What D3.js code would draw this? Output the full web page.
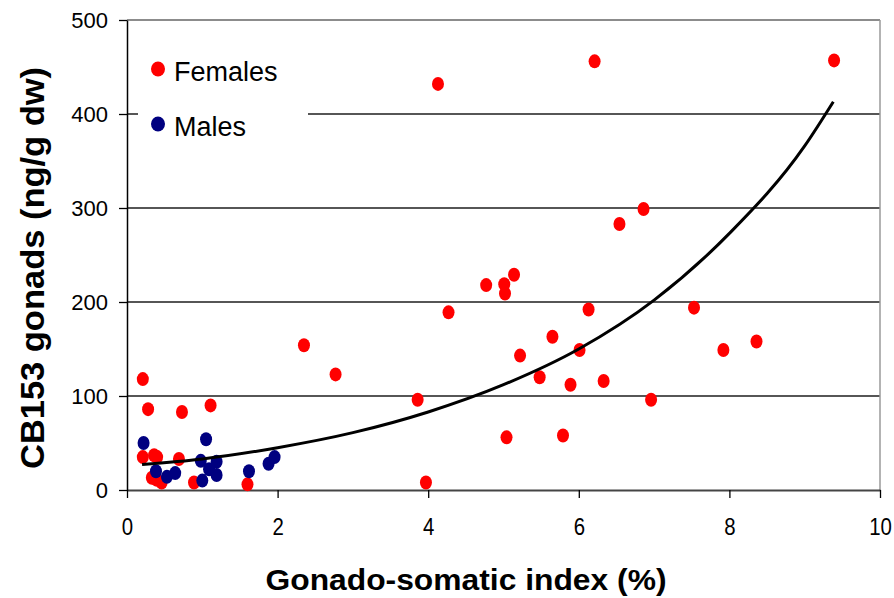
<!DOCTYPE html>
<html>
<head>
<meta charset="utf-8">
<script src="https://cdn.jsdelivr.net/npm/d3@7"></script>
<style>
  body { margin: 0; background: #fff; }
  text { font-family: "Liberation Sans", Arial, sans-serif; }
</style>
</head>
<body>
<div id="chart"></div>
<script>
// Gonado-somatic index (%) vs CB153 in gonads (ng/g dw)
const femalesX = [9.39, 6.21, 4.13, 6.86, 6.54, 5.14, 4.77, 5.01, 5.02, 4.27, 6.13, 7.53,
  5.65, 6.01, 5.22, 7.92, 8.36, 2.35, 2.77, 5.48, 5.89, 6.33, 3.86, 6.96, 5.04, 5.79,
  3.97, 1.60, 0.21, 0.28, 0.73, 1.11, 0.21, 0.36, 0.40, 0.33, 0.39, 0.46, 0.69, 0.89];
const femalesY = [457, 456, 432, 299, 283, 229, 218, 219, 209, 189, 192, 194,
  163, 149, 143, 149, 158, 154, 123, 120, 112, 116, 96, 96, 56, 58,
  8, 6, 118, 86, 83, 90, 35, 37, 35, 13, 11, 8, 33, 8];

const malesX = [0.22, 0.385, 0.53, 0.64, 1.05, 0.98, 1.19, 1.09, 1.19, 1.0, 1.62, 1.88, 1.96];
const malesY = [50, 20, 14, 18, 54, 31, 30, 22, 16, 10, 20, 28, 35];

// exponential trendline
const trendX = [0.2, 1, 2, 3, 4, 5, 6, 7, 8, 9, 9.38];
const trendY = [27, 33, 45, 61, 83, 112, 150, 202, 273, 366, 413];

const xTicks = [0, 2, 4, 6, 8, 10];
const yTicks = [0, 100, 200, 300, 400, 500];

const legendLabels = ["Females", "Males"];
const colors = ["#ff0000", "#000080"];

const width = 894, height = 598;
const plotLeft = 127, plotRight = 880, plotTop = 20, plotBottom = 490;

const svg = d3.select("#chart").append("svg")
  .attr("width", width)
  .attr("height", height);

const x = d3.scaleLinear().domain([0, 10]).range([plotLeft, plotRight]);
const y = d3.scaleLinear().domain([0, 500]).range([plotBottom, plotTop]);

// horizontal gridlines
svg.append("g")
  .selectAll("line")
  .data(yTicks.filter(d => d > 0))
  .enter()
  .append("line")
  .attr("x1", plotLeft)
  .attr("x2", plotRight)
  .attr("y1", d => y(d))
  .attr("y2", d => y(d))
  .attr("stroke", d => d == 500 ? "#666" : "#1e1e1e")
  .attr("stroke-width", 1.6);

// right border
svg.append("line")
  .attr("x1", plotRight).attr("x2", plotRight)
  .attr("y1", plotTop).attr("y2", plotBottom)
  .attr("stroke", "#9a9a9a")
  .attr("stroke-width", 1.5);

// x axis
const xAxis = svg.append("g")
  .attr("transform", "translate(0," + plotBottom + ")")
  .call(d3.axisBottom(x).tickValues(xTicks).tickSize(8).tickSizeOuter(0).tickPadding(20));
xAxis.select(".domain").attr("stroke", "#444").attr("stroke-width", 2.2);
xAxis.selectAll(".tick line").attr("stroke", "#000").attr("stroke-width", 1.3);
xAxis.selectAll("text")
  .attr("font-size", 24)
  .attr("fill", "#000")
  .attr("transform", "scale(0.85,1)")
  .attr("font-family", "'Liberation Sans', Arial, sans-serif");

// y axis
const yAxis = svg.append("g")
  .attr("transform", "translate(" + plotLeft + ",0)")
  .call(d3.axisLeft(y).tickValues(yTicks).tickSize(8).tickSizeOuter(0).tickPadding(11));
yAxis.select(".domain").attr("stroke", "#000").attr("stroke-width", 1.5);
yAxis.selectAll(".tick line").attr("stroke", "#000").attr("stroke-width", 1.3);
yAxis.selectAll("text")
  .attr("font-size", 22)
  .attr("fill", "#000")
  .attr("font-family", "'Liberation Sans', Arial, sans-serif");

// legend box (covers the 400 gridline)
const legend = svg.append("g");
legend.append("rect")
  .attr("x", 138).attr("y", 40)
  .attr("width", 170).attr("height", 112)
  .attr("fill", "#fff");
legendLabels.forEach((name, i) => {
  legend.append("ellipse")
    .attr("cx", 158).attr("cy", 69 + i * 55)
    .attr("rx", 7).attr("ry", 7.5)
    .attr("fill", colors[i]);
  legend.append("text")
    .attr("x", 174).attr("y", 81 + i * 55)
    .attr("font-size", 27)
    .attr("fill", "#000")
    .text(name);
});

// points
function drawPoints(xs, ys, color) {
  svg.append("g")
    .selectAll("ellipse")
    .data(xs.map((d, i) => [d, ys[i]]))
    .enter()
    .append("ellipse")
    .attr("cx", d => x(d[0]))
    .attr("cy", d => y(d[1]))
    .attr("rx", 6)
    .attr("ry", 7)
    .attr("fill", color);
}
drawPoints(femalesX, femalesY, colors[0]);
drawPoints(malesX, malesY, colors[1]);

// trendline
const line = d3.line()
  .x(d => x(d[0]))
  .y(d => y(d[1]))
  .curve(d3.curveMonotoneX);
svg.append("path")
  .datum(trendX.map((d, i) => [d, trendY[i]]))
  .attr("d", line)
  .attr("fill", "none")
  .attr("stroke", "#000")
  .attr("stroke-width", 3);

// axis titles
svg.append("text")
  .attr("x", 466).attr("y", 590)
  .attr("text-anchor", "middle")
  .attr("font-size", 30)
  .attr("font-weight", "bold")
  .attr("textLength", 401)
  .attr("lengthAdjust", "spacingAndGlyphs")
  .text("Gonado-somatic index (%)");

svg.append("text")
  .attr("transform", "translate(44,268) rotate(-90)")
  .attr("text-anchor", "middle")
  .attr("font-size", 34)
  .attr("font-weight", "bold")
  .attr("textLength", 402)
  .attr("lengthAdjust", "spacingAndGlyphs")
  .text("CB153 gonads (ng/g dw)");
</script>
</body>
</html>
